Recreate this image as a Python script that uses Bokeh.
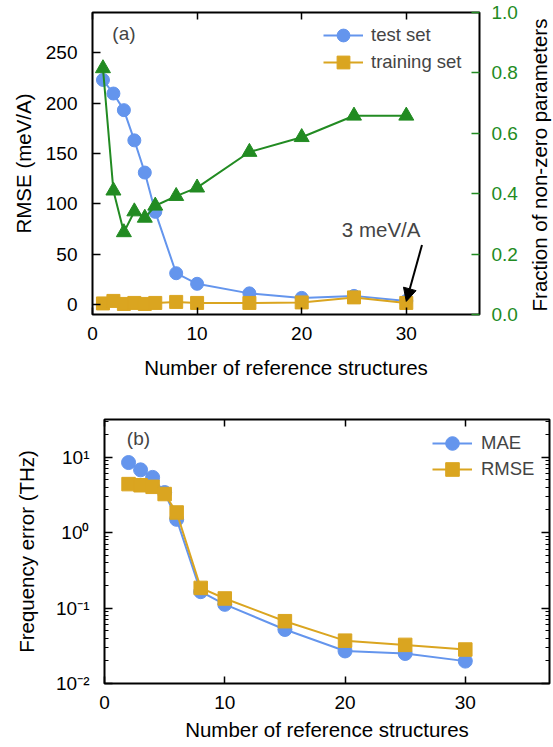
import math
from bokeh.plotting import figure
from bokeh.models import (Range1d, LinearAxis, LogAxis, FixedTicker, PrintfTickFormatter,
                          CustomJSTickFormatter, Label, Arrow, NormalHead, Legend, LegendItem, Div)
from bokeh.embed import file_html
from bokeh.resources import INLINE

# ---------------- data ----------------
n_struct_a = [1, 2, 3, 4, 5, 6, 8, 10, 15, 20, 25, 30]
rmse_test = [223, 209.5, 193, 163, 131, 92, 31, 20.5, 11, 6.5, 8.5, 3.5]
rmse_train = [1.0, 3.5, 0.5, 1.5, 0.5, 1.5, 2.5, 1.5, 1.5, 2.0, 7.0, 1.5]
frac_nonzero = [0.815, 0.41, 0.272, 0.341, 0.32, 0.36, 0.392, 0.42, 0.538, 0.587, 0.658, 0.658]

n_struct_b = [2, 3, 4, 5, 6, 8, 10, 15, 20, 25, 30]
freq_mae = [8.5, 6.8, 5.4, 3.4, 1.5, 0.165, 0.112, 0.052, 0.027, 0.025, 0.0198]
freq_rmse = [4.4, 4.25, 4.05, 3.25, 1.85, 0.185, 0.134, 0.067, 0.037, 0.0325, 0.0282]

x_ticks = [0, 10, 20, 30]
rmse_ticks = [0, 50, 100, 150, 200, 250]
frac_ticks = [0.0, 0.2, 0.4, 0.6, 0.8, 1.0]
freq_tick_values = [0.01, 0.1, 1, 10]
freq_tick_labels = ["10\u207b\u00b2", "10\u207b\u00b9", "10\u2070", "10\u00b9"]

# ---------------- style ----------------
FONT = "Liberation Sans"
BLUE = "#6495ED"
GOLD = "#DAA520"
GREEN = "#228B22"
TICK_FS = "19px"
TITLE_FS = "20.5px"
LEG_FS = "18.5px"


def style_axis(ax, color="black", tick_len=7):
    ax.axis_line_color = None
    ax.major_tick_in = tick_len
    ax.major_tick_out = 0
    ax.minor_tick_in = 0
    ax.minor_tick_out = 0
    ax.major_tick_line_color = color
    ax.major_tick_line_width = 1.5
    ax.major_label_text_font = FONT
    ax.major_label_text_font_size = TICK_FS
    ax.major_label_text_color = color
    ax.axis_label_text_font = FONT
    ax.axis_label_text_font_size = TITLE_FS
    ax.axis_label_text_font_style = "normal"
    ax.axis_label_text_color = "black"


def blank_axis(ax):
    ax.formatter = CustomJSTickFormatter(code="return ''")
    ax.major_label_text_font_size = "0px"
    ax.major_label_standoff = 0


def style_fig(p):
    p.xgrid.visible = False
    p.ygrid.visible = False
    p.outline_line_color = "black"
    p.outline_line_width = 2
    p.background_fill_color = "white"
    p.border_fill_color = "white"


def one_legend(label, renderers, loc, glyph_h, standoff):
    return Legend(items=[LegendItem(label=label, renderers=renderers)], location=loc,
                  border_line_color=None, background_fill_alpha=0, padding=0, margin=0,
                  spacing=0, glyph_width=40, glyph_height=glyph_h, label_height=glyph_h,
                  label_standoff=standoff, label_text_font=FONT, label_text_font_size=LEG_FS)


# ---------------- panel (a) ----------------
p1 = figure(width=553, height=390, x_range=Range1d(0, 37), y_range=Range1d(-10, 290),
            output_backend="svg", toolbar_location=None,
            min_border_left=92, min_border_right=74, min_border_top=12, min_border_bottom=76)
style_fig(p1)
p1.extra_y_ranges = {"frac": Range1d(0, 1)}

xa = p1.xaxis[0]
style_axis(xa)
xa.ticker = FixedTicker(ticks=x_ticks)
xa.axis_label = "Number of reference structures"
xa.major_label_standoff = 12
xa.axis_label_standoff = 13

ya = p1.yaxis[0]
style_axis(ya, tick_len=8)
ya.ticker = FixedTicker(ticks=rmse_ticks)
ya.axis_label = "RMSE (meV/A)"
ya.major_label_standoff = 15
ya.axis_label_standoff = 8

ra = LinearAxis(y_range_name="frac", ticker=FixedTicker(ticks=frac_ticks),
                formatter=PrintfTickFormatter(format="%.1f"))
style_axis(ra, color=GREEN, tick_len=8)
ra.major_label_standoff = 12
p1.add_layout(ra, "right")

ta = LinearAxis(ticker=FixedTicker(ticks=x_ticks))
style_axis(ta)
blank_axis(ta)
p1.add_layout(ta, "above")

r_l1 = p1.line(n_struct_a, rmse_test, line_color=BLUE, line_width=2)
r_s1 = p1.scatter(n_struct_a, rmse_test, marker="circle", size=13, fill_color=BLUE,
                  line_color=BLUE)
r_l2 = p1.line(n_struct_a, rmse_train, line_color=GOLD, line_width=2)
r_s2 = p1.scatter(n_struct_a, rmse_train, marker="square", size=13, fill_color=GOLD,
                  line_color=GOLD)
p1.line(n_struct_a, frac_nonzero, line_color=GREEN, line_width=2, y_range_name="frac")
p1.scatter(n_struct_a, frac_nonzero, marker="triangle", size=15, fill_color=GREEN,
           line_color=GREEN, y_range_name="frac")

p1.add_layout(one_legend("test set", [r_l1, r_s1], (231, 263), 32, 8))
p1.add_layout(one_legend("training set", [r_l2, r_s2], (231, 236), 32, 8))

p1.add_layout(Label(x=1.9, y=269.5, text="(a)", text_font=FONT, text_font_size="19px",
                    text_align="left", text_baseline="middle"))
p1.add_layout(Label(x=27.6, y=74.6, text="3 meV/A", text_font=FONT, text_font_size="20.5px",
                    text_align="center", text_baseline="middle"))
p1.add_layout(Arrow(end=NormalHead(size=13, fill_color="black", line_color="black"),
                    x_start=31.5, y_start=59, x_end=30, y_end=3.0,
                    line_color="black", line_width=2))

# right-axis title of panel (a), reading bottom to top as in the reference
right_title = Div(text="Fraction of non-zero parameters", width=330, height=24,
                  styles={"position": "absolute", "left": "375px", "top": "153px",
                          "transform": "rotate(-90deg)", "transform-origin": "50% 50%",
                          "font-family": FONT, "font-size": "20.5px", "line-height": "24px",
                          "text-align": "center", "white-space": "nowrap", "color": "black",
                          "margin": "0px", "padding": "0px"})

# ---------------- panel (b) ----------------
p2 = figure(width=553, height=357, x_range=Range1d(0, 37), y_range=Range1d(0.01, 10 ** 1.5),
            y_axis_type="log", output_backend="svg", toolbar_location=None,
            min_border_left=104, min_border_right=4, min_border_top=29, min_border_bottom=64)
style_fig(p2)

minor_log = [k * 10.0 ** e for e in (-2, -1, 0) for k in range(2, 10)] + [20.0, 30.0]
log_formatter = CustomJSTickFormatter(args=dict(vals=freq_tick_values, labs=freq_tick_labels), code="""
for (let i = 0; i < vals.length; i++) {
  if (Math.abs(Math.log10(tick) - Math.log10(vals[i])) < 1e-6) { return labs[i]; }
}
return "";
""")

xb = p2.xaxis[0]
style_axis(xb)
xb.ticker = FixedTicker(ticks=x_ticks)
xb.axis_label = "Number of reference structures"
xb.major_label_standoff = 12
xb.axis_label_standoff = 6

yb = p2.yaxis[0]
style_axis(yb, tick_len=8)
yb.ticker = FixedTicker(ticks=freq_tick_values, minor_ticks=minor_log)
yb.formatter = log_formatter
yb.minor_tick_in = 4
yb.minor_tick_line_color = "black"
yb.minor_tick_line_width = 1.2
yb.axis_label = "Frequency error (THz)"
yb.major_label_standoff = 15
yb.axis_label_standoff = 15

rb = LogAxis(ticker=FixedTicker(ticks=freq_tick_values, minor_ticks=minor_log))
style_axis(rb, tick_len=8)
blank_axis(rb)
rb.minor_tick_in = 4
rb.minor_tick_line_color = "black"
rb.minor_tick_line_width = 1.2
p2.add_layout(rb, "right")

tb = LinearAxis(ticker=FixedTicker(ticks=x_ticks))
style_axis(tb)
blank_axis(tb)
p2.add_layout(tb, "above")

r_l3 = p2.line(n_struct_b, freq_mae, line_color=BLUE, line_width=2)
r_s3 = p2.scatter(n_struct_b, freq_mae, marker="circle", size=14, fill_color=BLUE,
                  line_color=BLUE)
r_l4 = p2.line(n_struct_b, freq_rmse, line_color=GOLD, line_width=2)
r_s4 = p2.scatter(n_struct_b, freq_rmse, marker="square", size=13.5, fill_color=GOLD,
                  line_color=GOLD)

p2.add_layout(one_legend("MAE", [r_l3, r_s3], (328, 223), 34, 9))
p2.add_layout(one_legend("RMSE", [r_l4, r_s4], (328, 197), 34, 9))

p2.add_layout(Label(x=1.86, y=17.7, text="(b)", text_font=FONT, text_font_size="19px",
                    text_align="left", text_baseline="middle"))

open("out.html", "w").write(file_html([p1, p2, right_title], INLINE))
